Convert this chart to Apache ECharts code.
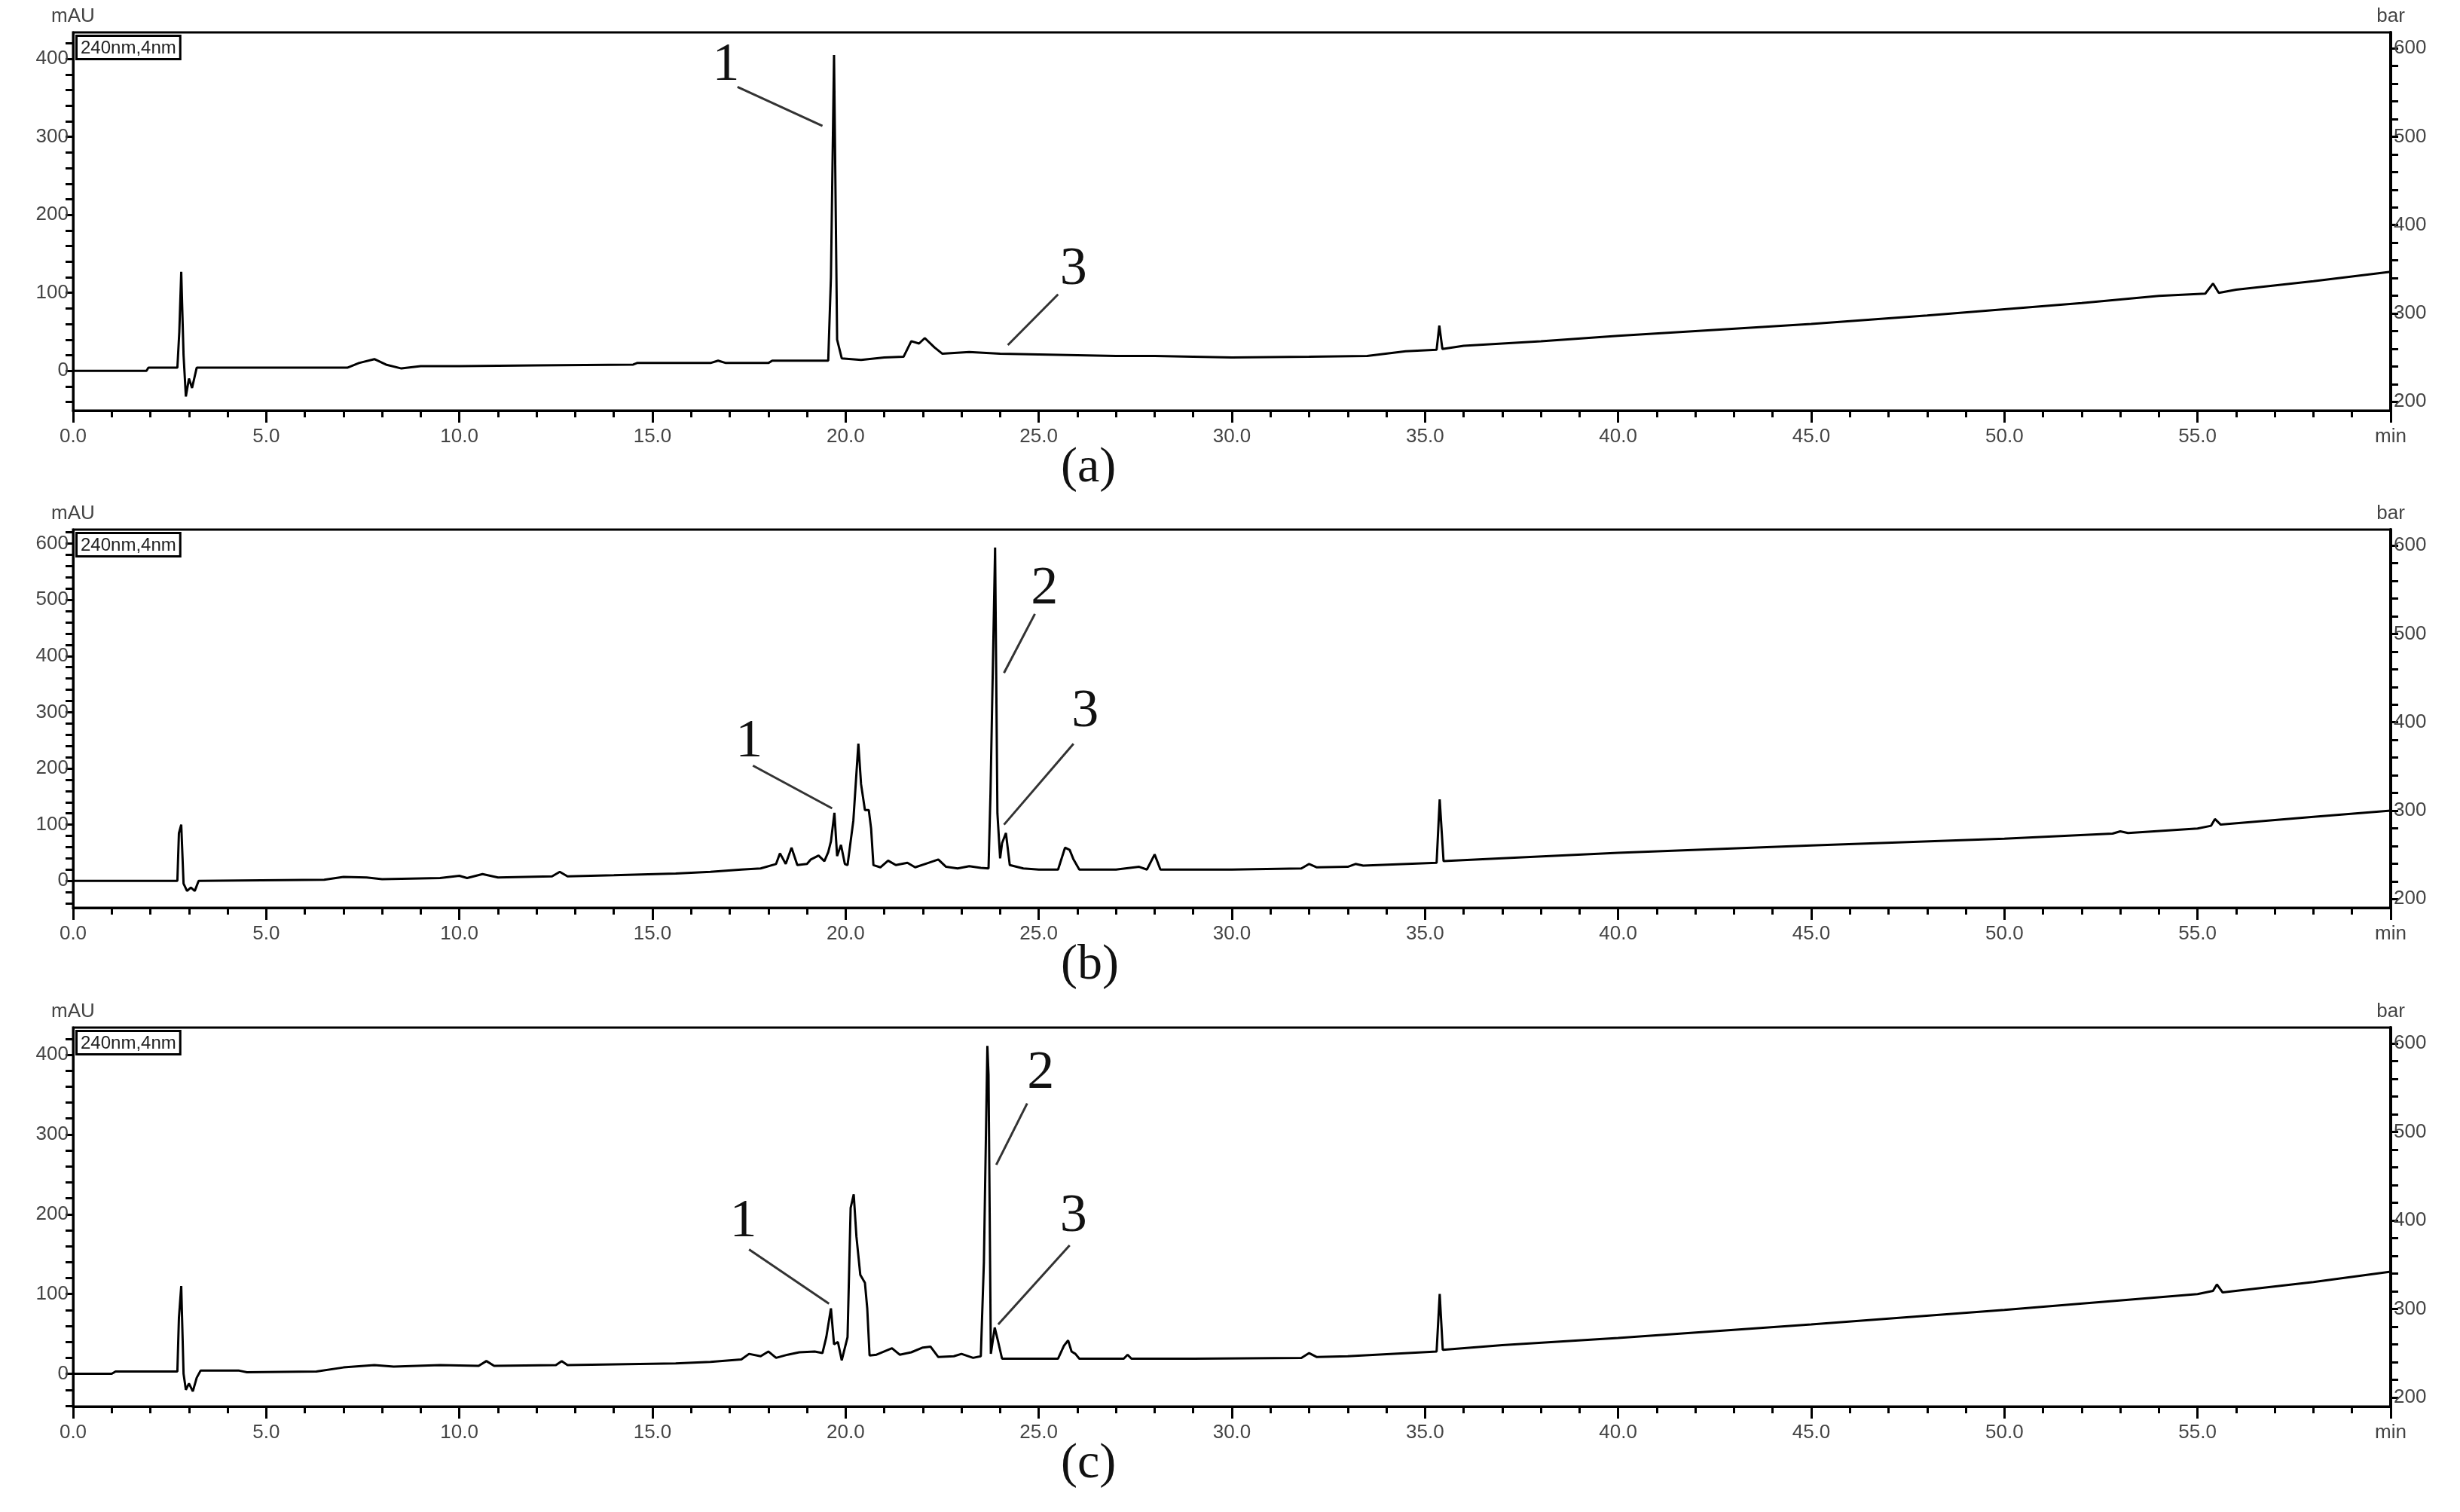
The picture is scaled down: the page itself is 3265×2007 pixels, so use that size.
<!DOCTYPE html>
<html>
<head>
<meta charset="utf-8">
<script src="https://cdn.jsdelivr.net/npm/echarts@6/dist/echarts.min.js"></script>
<style>html,body{margin:0;padding:0;background:#fff}#c{width:3265px;height:2007px}</style>
</head>
<body>
<div id="c"></div>
<script>
// chromatogram traces [time (min), absorbance (mAU)]
const traceA = [[0,0],[1.9,0],[1.95,4],[2.7,4],[2.75,50],[2.8,127],[2.86,20],[2.92,-33],[3.0,-10],[3.08,-22],[3.2,4],[7.1,4],[7.4,10],[7.8,15],[8.1,8],[8.5,3],[9,6],[10,6],[12,7],[14.5,8],[14.6,10],[16.5,10],[16.7,13],[16.9,10],[18,10],[18.1,13],[19.55,13],[19.62,120],[19.7,405],[19.78,40],[19.9,16],[20.4,14],[21.0,17],[21.5,18],[21.7,38],[21.9,35],[22.05,42],[22.3,30],[22.5,22],[23.2,24],[24,22],[25,21],[26,20],[27,19],[28,19],[30,17],[32,18],[33.5,19],[34.5,25],[35.3,27],[35.37,58],[35.45,28],[36,32],[38,38],[40,45],[42,51],[45,60],[48,71],[50,79],[52,87],[54,96],[55.2,99],[55.4,112],[55.55,100],[56,104],[58,115],[60,127]];
const traceB = [[0,0],[2.7,0],[2.74,85],[2.8,100],[2.86,-5],[2.95,-18],[3.05,-12],[3.15,-18],[3.25,0],[6.5,2],[7,7],[7.6,6],[8,3],[9.5,5],[10,9],[10.2,5],[10.6,12],[11,6],[12.4,8],[12.6,16],[12.8,8],[14,10],[15.6,13],[16.5,16],[17.3,20],[17.8,22],[18.2,30],[18.3,49],[18.45,30],[18.6,59],[18.75,28],[19.0,30],[19.1,38],[19.3,45],[19.45,35],[19.55,51],[19.62,70],[19.71,121],[19.78,44],[19.88,64],[19.98,30],[20.05,28],[20.2,107],[20.33,244],[20.4,172],[20.5,126],[20.6,126],[20.66,93],[20.72,28],[20.9,24],[21.1,36],[21.3,28],[21.6,32],[21.8,24],[22.1,31],[22.4,38],[22.6,25],[22.9,22],[23.2,26],[23.5,23],[23.7,22],[23.75,154],[23.87,593],[23.93,120],[24.0,40],[24.05,67],[24.15,85],[24.25,28],[24.6,22],[25,20],[25.5,20],[25.68,59],[25.8,55],[25.9,38],[26.05,20],[27,20],[27.6,25],[27.8,20],[28.0,47],[28.15,20],[30,20],[31.8,22],[32.0,30],[32.2,24],[33,25],[33.2,30],[33.4,27],[35.3,32],[35.38,145],[35.48,35],[37,40],[40,50],[45,63],[50,75],[52.8,84],[53,88],[53.2,85],[55,93],[55.35,98],[55.45,110],[55.6,100],[58,114],[60,125]];
const traceC = [[0,0],[1.0,0],[1.1,3],[2.7,3],[2.74,70],[2.8,110],[2.86,0],[2.92,-20],[3.0,-12],[3.1,-22],[3.2,-5],[3.3,4],[4.3,4],[4.5,2],[6.3,3],[7,8],[7.8,11],[8.3,9],[9.5,11],[10.5,10],[10.7,16],[10.9,10],[12.5,11],[12.65,16],[12.8,11],[15.6,13],[16.5,15],[17.3,18],[17.5,25],[17.8,22],[18.0,28],[18.2,20],[18.5,24],[18.8,27],[19.2,28],[19.4,26],[19.5,46],[19.62,82],[19.7,37],[19.8,40],[19.9,17],[20.05,46],[20.13,208],[20.21,225],[20.28,172],[20.38,124],[20.5,114],[20.56,82],[20.62,23],[20.8,24],[21.0,28],[21.2,32],[21.4,24],[21.7,27],[22.0,33],[22.2,34],[22.4,21],[22.8,22],[23.0,25],[23.3,20],[23.5,22],[23.58,140],[23.67,411],[23.7,375],[23.76,25],[23.86,58],[23.95,40],[24.05,19],[25.5,19],[25.65,35],[25.76,42],[25.85,28],[25.95,25],[26.05,19],[27.2,19],[27.3,24],[27.4,19],[29,19],[31.8,20],[32.0,26],[32.2,21],[33,22],[35.3,28],[35.38,100],[35.46,30],[37,36],[40,45],[45,62],[50,80],[55,100],[55.4,104],[55.5,112],[55.65,102],[58,115],[60,128]];

const yRangeA = [-51, 434], yRangeB = [-48, 625], yRangeC = [-41, 434];
const yLabelsA = [0, 100, 200, 300, 400];
const yLabelsB = [0, 100, 200, 300, 400, 500, 600];
const barLabels = [200, 300, 400, 500, 600];
const panelNames = ['(a)', '(b)', '(c)'];

// annotations: [text, [textT, textV], [lineStartT, V], [lineEndT, V]]
const notesA = [['1',[16.9,391],[17.2,364],[19.4,314]],['3',[25.9,130],[25.5,98],[24.2,33]]];
const notesB = [['1',[17.5,247],[17.6,205],[19.65,129]],['2',[25.15,519],[24.9,475],[24.1,370]],['3',[26.2,300],[25.9,244],[24.1,100]]];
const notesC = [['1',[17.35,190],[17.5,156],[19.57,88]],['2',[25.05,376],[24.7,339],[23.9,262]],['3',[25.9,197],[25.8,161],[23.95,62]]];

function steps(a, b, s) { const r = []; for (let v = a; v <= b; v += s) r.push(v); return r; }

const panels = [
  {top: 43, height: 502, trace: traceA, range: yRangeA, labels: yLabelsA, notes: notesA},
  {top: 703, height: 502, trace: traceB, range: yRangeB, labels: yLabelsB, notes: notesB},
  {top: 1364, height: 503, trace: traceC, range: yRangeC, labels: yLabelsA, notes: notesC}
];

const font = "'Liberation Sans Narrow','Liberation Sans',Arial,sans-serif";
const serif = "'Liberation Serif','DejaVu Serif',serif";
const grid = [], xAxis = [], yAxis = [], series = [], graphic = [];

panels.forEach((p, i) => {
  grid.push({left: 97, right: 92, top: p.top, height: p.height, show: true, borderColor: '#000', borderWidth: 3});
  xAxis.push({
    type: 'value', gridIndex: i, min: 0, max: 60, interval: 5,
    axisLine: {onZero: false, lineStyle: {color: '#000', width: 3}},
    axisTick: {length: 16, lineStyle: {color: '#000', width: 3}},
    minorTick: {show: true, splitNumber: 5, length: 9, lineStyle: {color: '#000', width: 3}},
    splitLine: {show: false},
    axisLabel: {margin: 22, fontSize: 26, color: '#444', fontFamily: font,
      formatter: v => v === 60 ? 'min' : v.toFixed(1)}
  });
  yAxis.push({
    type: 'value', gridIndex: i, min: p.range[0], max: p.range[1],
    name: 'mAU', nameGap: 8, nameTextStyle: {fontSize: 26, color: '#444', fontFamily: font, align: 'center'},
    axisLine: {show: true, onZero: false, lineStyle: {color: '#000', width: 3}},
    axisTick: {length: 10, customValues: steps(-40, p.range[1], 20), lineStyle: {color: '#000', width: 3}},
    axisLabel: {customValues: p.labels, fontSize: 26, color: '#444', fontFamily: font, margin: 6},
    splitLine: {show: false}
  });
  yAxis.push({
    type: 'value', gridIndex: i, position: 'right', min: 190, max: 618,
    name: 'bar', nameGap: 8, nameTextStyle: {fontSize: 26, color: '#444', fontFamily: font, align: 'center'},
    axisLine: {show: true, onZero: false, lineStyle: {color: '#000', width: 4}},
    axisTick: {length: 10, customValues: steps(200, 600, 20), lineStyle: {color: '#000', width: 3}},
    axisLabel: {customValues: barLabels, fontSize: 26, color: '#444', fontFamily: font, margin: 4},
    splitLine: {show: false}
  });
  series.push({
    type: 'line', xAxisIndex: i, yAxisIndex: i * 2, data: p.trace,
    showSymbol: false, symbol: 'none', animation: false,
    lineStyle: {color: '#000', width: 3},
    markLine: {
      silent: true, symbol: 'none', animation: false,
      lineStyle: {color: '#333', width: 3, type: 'solid'}, label: {show: false},
      data: p.notes.map(n => [{coord: n[2]}, {coord: n[3]}])
    },
    markPoint: {
      silent: true, symbol: 'circle', symbolSize: 0, animation: false,
      label: {show: true, fontSize: 72, color: '#111', fontFamily: serif, formatter: '{b}'},
      data: p.notes.map(n => ({name: n[0], coord: n[1]}))
    }
  });
  graphic.push({
    type: 'text', left: 100, top: p.top + 3,
    style: {text: '240nm,4nm', fontSize: 24, fill: '#222', fontFamily: font,
      backgroundColor: '#fff', borderColor: '#000', borderWidth: 3, padding: [3, 4, 1, 4]}
  });
  graphic.push({
    type: 'text', left: 1408, top: p.top + p.height + 44,
    style: {text: panelNames[i], fontSize: 66, fill: '#111', fontFamily: serif}
  });
});

const chart = echarts.init(document.getElementById('c'));
chart.setOption({animation: false, grid, xAxis, yAxis, series, graphic});
</script>
</body>
</html>
